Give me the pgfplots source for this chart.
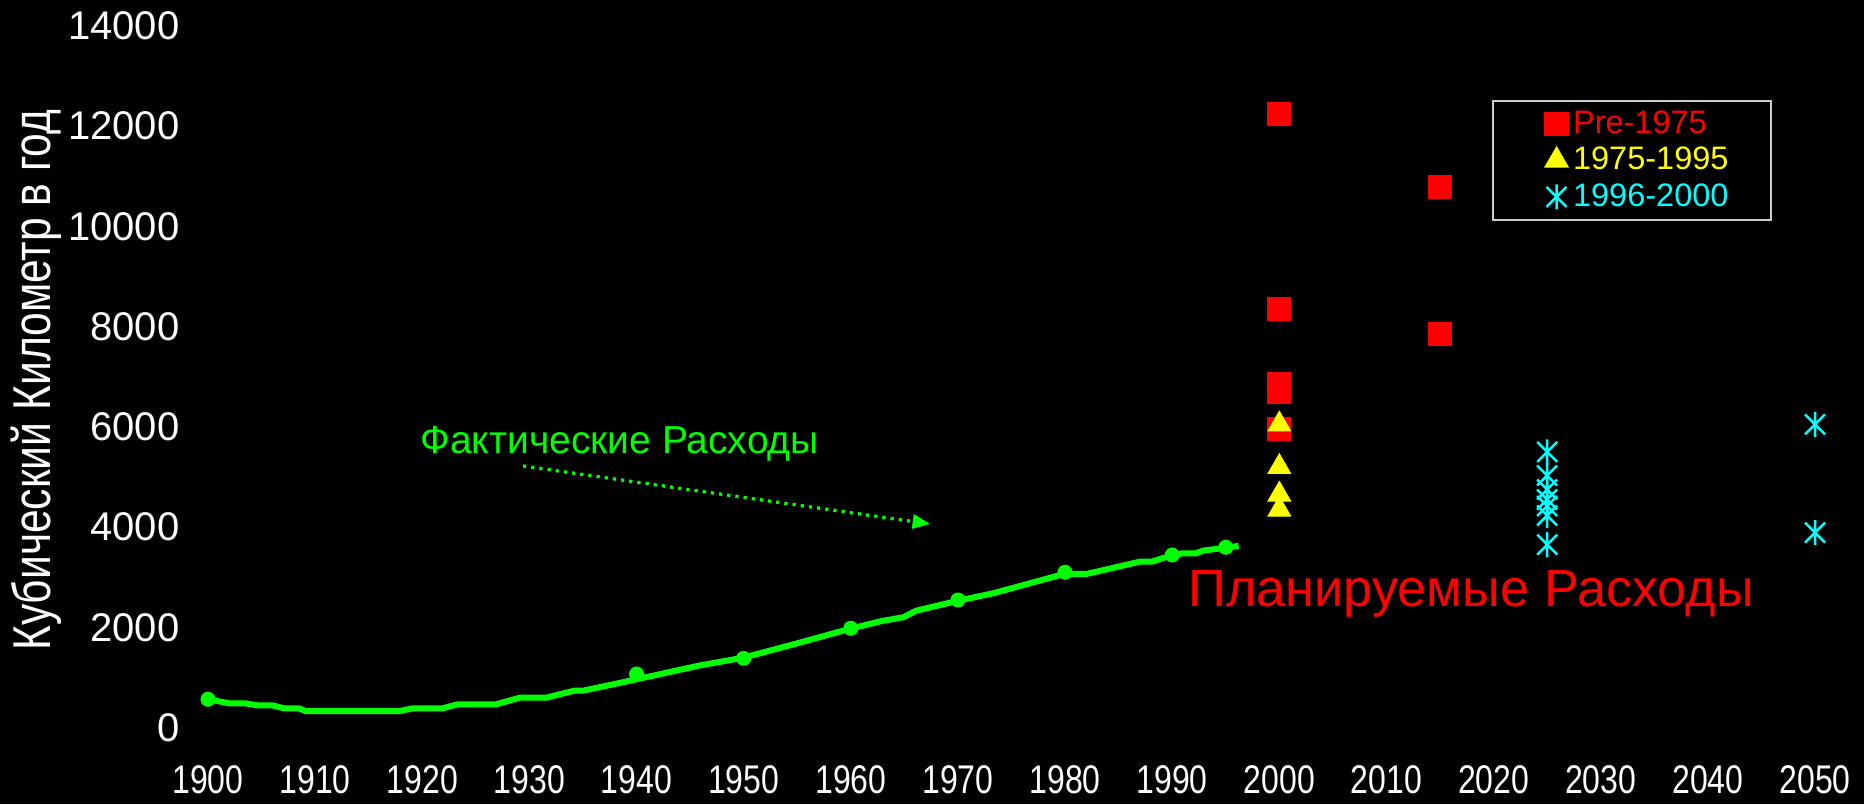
\documentclass[border=0pt]{standalone}
\usepackage{fontspec}
\setmainfont{Liberation Sans}
\newfontfamily\narrowfont[FakeStretch=0.8]{Liberation Sans}
\usepackage{pgfplots}
\pgfplotsset{compat=1.18}
\usetikzlibrary{arrows.meta}
\definecolor{pgreen}{RGB}{0,255,0}
\definecolor{pred}{RGB}{255,0,0}
\definecolor{pyellow}{RGB}{255,255,0}
\definecolor{pcyan}{RGB}{0,255,255}
\pgfdeclareplotmark{star6}{%
  \pgfpathmoveto{\pgfqpoint{0pt}{\pgfplotmarksize}}%
  \pgfpathlineto{\pgfqpoint{0pt}{-\pgfplotmarksize}}%
  \pgfpathmoveto{\pgfqpoint{-0.8\pgfplotmarksize}{0.8\pgfplotmarksize}}%
  \pgfpathlineto{\pgfqpoint{0.8\pgfplotmarksize}{-0.8\pgfplotmarksize}}%
  \pgfpathmoveto{\pgfqpoint{-0.8\pgfplotmarksize}{-0.8\pgfplotmarksize}}%
  \pgfpathlineto{\pgfqpoint{0.8\pgfplotmarksize}{0.8\pgfplotmarksize}}%
  \pgfusepathqstroke}
\begin{document}
\begin{tikzpicture}
\fill[black] (-83.2pt,-30.6pt) rectangle (662.4pt,291pt);
\useasboundingbox (-83.2pt,-30.6pt) rectangle (662.4pt,291pt);
\begin{axis}[
  at={(0pt,0pt)}, anchor=south west,
  scale only axis, width=642.8pt, height=280.6pt,
  xmin=1900, xmax=2050, ymin=0, ymax=14000,
  xtick={1900,1910,...,2050}, ytick={0,2000,...,14000},
  scaled y ticks=false, scaled x ticks=false,
  axis line style={draw=none}, major tick length=0pt,
  tick label style={text=white},
  /pgf/number format/assume math mode=true,
  /pgf/number format/set thousands separator={},
  xticklabel style={font=\narrowfont\fontsize{16}{19}\selectfont, yshift=-11.7pt},
  yticklabel style={font=\fontsize{16}{19}\selectfont, xshift=-7.9pt},
  clip=false,
  legend cell align=left,
  legend image code/.code={%
    \path[draw=none,fill=none] (-2pt,0pt) rectangle (0.45cm,0.1pt);
    \draw plot[only marks] coordinates {(0.3cm,0cm)};},
  legend style={at={(0.799,0.8945)}, anchor=north west, fill=black,
    draw=white!80!black, line width=0.6pt, inner xsep=15pt, inner ysep=2pt,
    font=\fontsize{13}{15.5}\selectfont},
]
% actual use line
\addplot[pgreen, line width=2.4pt, forget plot] coordinates {
(1900,563) (1902,482) (1903.5,482) (1904.6,443) (1906,443) (1907.1,383) (1908.5,383)
(1909.1,329) (1917.9,329) (1919.1,383) (1921.9,383) (1923.3,463) (1926.9,463)
(1929.1,596) (1931.6,596) (1934.2,735) (1935,735) (1938,870) (1940,962)
(1945.8,1234) (1950,1395) (1955,1680) (1960,1975) (1963,2130) (1964.9,2200)
(1966.1,2331) (1970,2530) (1973.3,2679) (1980,3070) (1982,3064) (1987,3310)
(1988.1,3310) (1990,3440) (1991,3477) (1992.2,3477) (1992.9,3530) (1995,3590) (1996.2,3623)
};
\addplot[only marks, mark=*, mark size=2.8pt, color=pgreen, forget plot] coordinates {
(1900,563) (1940,1068) (1950,1380) (1960,1980) (1970,2545) (1980,3098) (1990,3443) (1995,3597)
};
% projections
\addplot[only marks, mark=square*, mark size=4.6pt, color=pred] coordinates {
(2000,12240) (2000,8350) (2000,6850) (2000,6700) (2000,5950) (2015,10790) (2015,7850)
};
\addlegendentry{\textcolor{pred}{Pre-1975}}
\addplot[only marks, mark=triangle*, mark size=5.2pt, color=pyellow] coordinates {
(2000,6050) (2000,5200) (2000,4650) (2000,4350)
};
\addlegendentry{\textcolor{pyellow}{1975-1995}}
\addplot[only marks, mark=star6, mark size=5pt, color=pcyan, line width=1pt] coordinates {
(2025,5500) (2025,5030) (2025,4750) (2025,4550) (2025,4420) (2025,4230) (2025,3650)
(2050,6050) (2050,3890)
};
\addlegendentry{\textcolor{pcyan}{1996-2000}}
% annotations
\node[anchor=base west, text=pgreen, font=\fontsize{15.6}{18}\selectfont, inner sep=0pt] at (axis cs:1919.8,5459) {Фактические Расходы};
\draw[pgreen, line width=1.3pt, dotted, -{Triangle[length=7pt,width=6pt,line width=0pt]}] (axis cs:1929.4,5220) -- (axis cs:1967.4,4062);
\node[anchor=base west, text=pred, font=\fontsize{20.9}{24}\selectfont, inner sep=0pt] at (axis cs:1991.5,2411) {Планируемые Расходы};
\node[rotate=90, text=white, font=\narrowfont\fontsize{21.3}{25}\selectfont] at (axis description cs:-0.107,0.495) {Кубический Километр в год};
\end{axis}
\end{tikzpicture}
\end{document}
